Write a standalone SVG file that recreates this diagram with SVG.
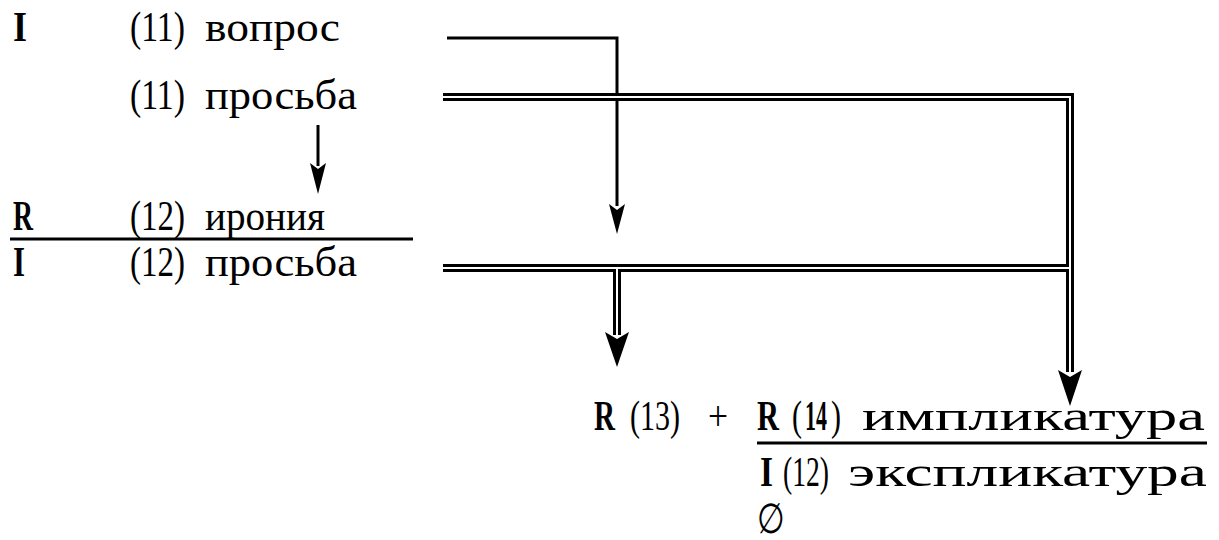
<svg xmlns="http://www.w3.org/2000/svg" width="1219" height="540" viewBox="0 0 1219 540">
<style>
text{font-family:"Liberation Serif","Times New Roman",serif;font-size:42px;fill:#000}
.b{font-weight:bold}
.thin{fill:none;stroke:#000;stroke-width:3}
.dblo{fill:none;stroke:#000;stroke-width:8}
.dbli{fill:none;stroke:#fff;stroke-width:2}
.rule{stroke:#000;stroke-width:3}
</style>
<rect width="1219" height="540" fill="#fff"/>
<g id="connectors">
<path class="thin" d="M447,38 H617 V206"/>
<path d="M609,204 L617,210 L625,204 L617,234 Z"/>
<path class="thin" d="M318,125 V166"/>
<path d="M310,163 L318,169 L326,163 L318,194 Z"/>
<path class="dblo" d="M443,97 H1070 V268 H443 M617,268 V335 M1070,268 V372"/>
<path class="dbli" d="M443,97 H1070 V268 H443 M617,268 V335 M1070,268 V372"/>
<path d="M605,332 L617,339 L629,332 L617,367 Z"/>
<path d="M1058,370 L1070,377 L1082,370 L1070,406 Z"/>
</g>
<g id="row1">
<text x="13" y="41" class="b" textLength="14" lengthAdjust="spacingAndGlyphs">I</text>
<text x="130" y="41" textLength="55" lengthAdjust="spacingAndGlyphs">(11)</text>
<text x="205" y="41" textLength="135" lengthAdjust="spacingAndGlyphs">вопрос</text>
</g>
<g id="row2">
<text x="130" y="109" textLength="55" lengthAdjust="spacingAndGlyphs">(11)</text>
<text x="205" y="109" textLength="152" lengthAdjust="spacingAndGlyphs">просьба</text>
</g>
<g id="row3">
<text x="13" y="230" class="b" textLength="20" lengthAdjust="spacingAndGlyphs">R</text>
<text x="130" y="230" textLength="55" lengthAdjust="spacingAndGlyphs">(12)</text>
<text x="205" y="230" textLength="120" lengthAdjust="spacingAndGlyphs">ирония</text>
<line class="rule" x1="10" y1="239" x2="413" y2="239"/>
</g>
<g id="row4">
<text x="13" y="276" class="b" textLength="12" lengthAdjust="spacingAndGlyphs">I</text>
<text x="130" y="276" textLength="55" lengthAdjust="spacingAndGlyphs">(12)</text>
<text x="205" y="276" textLength="152" lengthAdjust="spacingAndGlyphs">просьба</text>
</g>
<g id="result">
<text x="594" y="430" class="b" textLength="21" lengthAdjust="spacingAndGlyphs">R</text>
<text x="630" y="430" textLength="50" lengthAdjust="spacingAndGlyphs">(13)</text>
<text x="708" y="430" textLength="20" lengthAdjust="spacingAndGlyphs">+</text>
<text x="757" y="430" class="b" textLength="22" lengthAdjust="spacingAndGlyphs">R</text>
<text x="792" y="430" textLength="10" lengthAdjust="spacingAndGlyphs">(</text>
<text x="805" y="430" class="b" textLength="22" lengthAdjust="spacingAndGlyphs">14</text>
<text x="831" y="430" textLength="10" lengthAdjust="spacingAndGlyphs">)</text>
<text x="862" y="430" textLength="343" lengthAdjust="spacingAndGlyphs">импликатура</text>
<line class="rule" x1="757" y1="443" x2="1207" y2="443"/>
<text x="760" y="486" class="b" textLength="13" lengthAdjust="spacingAndGlyphs">I</text>
<text x="783" y="486" textLength="46" lengthAdjust="spacingAndGlyphs">(12)</text>
<text x="848" y="486" textLength="359" lengthAdjust="spacingAndGlyphs">экспликатура</text>
<text x="757" y="533" textLength="28" lengthAdjust="spacingAndGlyphs">∅</text>
</g>
</svg>
